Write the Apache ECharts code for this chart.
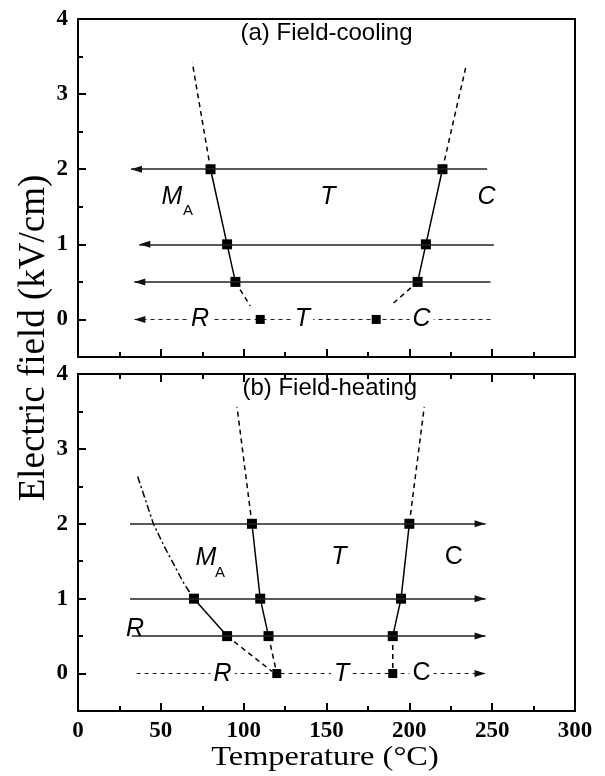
<!DOCTYPE html>
<html><head><meta charset="utf-8">
<script src="https://cdn.jsdelivr.net/npm/echarts@6/dist/echarts.min.js"></script>
<style>html,body{margin:0;padding:0;background:#fff}#c{width:605px;height:776px}</style>
</head><body><div id="c"></div>
<script>
// ---------------- data ----------------
const yMajorTicks = [0, 1, 2, 3, 4];
const yMinorTicks = [0.5, 1.5, 2.5, 3.5];

// (a) Field-cooling
const fcArrowField = [2, 1, 0.5, 0];
const fcArrowFrom = [247, 251, 249, 249];
const fcArrowTo = [32, 37, 34, 34];
const fcLowSolid = [[80, 2], [90, 1], [95, 0.5]];
const fcLowDashUp = [[80, 2], [69, 3.42]];
const fcLowDashDown = [[95, 0.5], [104, 0.18]];
const fcHighSolid = [[220, 2], [210, 1], [205, 0.5]];
const fcHighDashUp = [[220, 2], [234.5, 3.4]];
const fcHighDashDown = [[205, 0.5], [189, 0.19]];
const fcZeroPoints = [[110, 0], [180, 0]];
const fcLabels = ['(a) Field-cooling', 'M', 'A', 'T', 'C', 'R', 'T', 'C'];
const fcLabelAt = [[150, 3.81], [56.7, 1.63], [66.4, 1.44], [150.9, 1.63], [246.6, 1.63], [73.6, 0], [135.5, 0], [207.4, 0]];

// (b) Field-heating
const fhArrowField = [2, 1, 0.5, 0];
const fhArrowFrom = [31.4, 31.4, 32.4, 35.4];
const fhArrowTo = [246, 246, 246, 246];
const fhMidSolid = [[105, 2], [110, 1], [115, 0.5]];
const fhMidDashUp = [[105, 2], [96, 3.56]];
const fhMidDashDown = [[115, 0.5], [120, 0]];
const fhHighSolid = [[200, 2], [195, 1], [190, 0.5]];
const fhHighDashUp = [[200, 2], [209, 3.56]];
const fhHighDashDown = [[190, 0.5], [190, 0]];
const fhLowSolid = [[70, 1], [90, 0.5]];
const fhLowDashDotUp = [[36, 2.63], [41, 2.3], [45.5, 2], [52, 1.7], [58, 1.45], [64, 1.2], [70, 1]];
const fhLowDashDown = [[90, 0.5], [117, 0.03]];
const fhZeroPoints = [[120, 0], [190, 0]];
const fhLabels = ['(b) Field-heating', 'M', 'A', 'T', 'C', 'R', 'R', 'T', 'C'];
const fhLabelAt = [[152, 3.81], [77.2, 1.54], [85.7, 1.35], [157.5, 1.55], [226.9, 1.55], [34.4, 0.6], [87.3, 0], [159.1, 0], [207.4, 0]];

// ---------------- styling / build ----------------
const SERIF = '"Liberation Serif","Times New Roman",serif';
const SANS = '"Liberation Sans",Arial,sans-serif';
const AX = { color: '#000', width: 2 };

function xAxisFor(grid, position, labels) {
  return {
    type: 'value', gridIndex: grid, position, min: 0, max: 300, interval: 50,
    axisLine: { show: true, onZero: false, lineStyle: AX },
    axisTick: { show: true, inside: true, length: 8, lineStyle: AX },
    minorTick: { show: true, splitNumber: 2, length: 5, lineStyle: AX },
    axisLabel: { show: labels, color: '#000', fontFamily: SERIF, fontWeight: 'bold', fontSize: 23, margin: 9 },
    splitLine: { show: false }, minorSplitLine: { show: false }
  };
}
function yAxisFor(grid, major) {
  return {
    type: 'value', gridIndex: grid, position: 'left', min: -0.5, max: 4,
    axisLine: { show: major, onZero: false, lineStyle: AX },
    axisTick: { show: true, inside: true, length: major ? 8 : 5, lineStyle: AX, customValues: major ? yMajorTicks : yMinorTicks },
    axisLabel: major ? { show: true, customValues: yMajorTicks, color: '#000', fontFamily: SERIF, fontWeight: 'bold', fontSize: 23, margin: 10 } : { show: false },
    splitLine: { show: false }
  };
}
const axisIdx = [{ x: 0, y: 0 }, { x: 1, y: 2 }];

function line(panel, data, type, symbols) {
  return {
    type: 'line', xAxisIndex: axisIdx[panel].x, yAxisIndex: axisIdx[panel].y, data,
    symbol: symbols ? 'rect' : 'none', symbolSize: 10, showSymbol: !!symbols,
    lineStyle: { color: '#000', width: 1.5, type }, itemStyle: { color: '#000', opacity: 1 },
    silent: true, animation: false, z: 4
  };
}
function points(panel, data) {
  return {
    type: 'scatter', xAxisIndex: axisIdx[panel].x, yAxisIndex: axisIdx[panel].y, data,
    symbol: 'rect', symbolSize: 9, itemStyle: { color: '#000', opacity: 1 }, silent: true, animation: false, z: 6
  };
}
// horizontal field lines (drawn with markLine between data coords) + arrowheads (scatter triangles at the tips)
function fieldLines(panel, field, from, to, anchor) {
  return {
    type: 'line', xAxisIndex: axisIdx[panel].x, yAxisIndex: axisIdx[panel].y, data: anchor,
    symbol: 'none', lineStyle: { opacity: 0 }, silent: true, animation: false, z: 2,
    markLine: {
      silent: true, animation: false, symbol: ['none', 'none'],
      label: { show: false }, emphasis: { disabled: true },
      lineStyle: { color: '#222', width: 1.5, type: 'solid' },
      data: field.map((e, i) => [
        { coord: [from[i], e], lineStyle: e === 0 ? { type: [4, 4], width: 1.1, color: '#222' } : { type: 'solid', width: 1.5, color: '#222' } },
        { coord: [to[i], e] }
      ])
    }
  };
}
function arrowHeads(panel, field, to, leftward) {
  return {
    type: 'scatter', xAxisIndex: axisIdx[panel].x, yAxisIndex: axisIdx[panel].y,
    data: field.map((e, i) => [to[i], e]),
    symbol: 'triangle', symbolSize: [7, 11], symbolRotate: leftward ? 90 : -90,
    symbolOffset: [leftward ? 5.5 : -5.5, 0],
    itemStyle: { color: '#111', opacity: 1 }, silent: true, animation: false, z: 5
  };
}
function labels(panel, texts, at, uprightC) {
  return {
    type: 'scatter', xAxisIndex: axisIdx[panel].x, yAxisIndex: axisIdx[panel].y, silent: true, animation: false, z: 10,
    symbolSize: 1, itemStyle: { color: 'transparent', opacity: 1 },
    data: texts.map((t, i) => {
      const isTitle = t.length > 2;
      const isSub = t === 'A';
      const italic = !isTitle && !isSub && !(uprightC && t === 'C');
      const onZero = at[i][1] === 0;
      return {
        value: [at[i][0], at[i][1], t],
        label: {
          show: true, position: 'inside', formatter: t, color: '#000', opacity: 1,
          fontFamily: SANS, fontStyle: italic ? 'italic' : 'normal',
          fontSize: isTitle ? 24 : (isSub ? 15 : 25),
          backgroundColor: onZero ? '#fff' : 'transparent', padding: onZero ? [0, 3] : 0
        }
      };
    })
  };
}

const chart = echarts.init(document.getElementById('c'), null, { renderer: 'canvas' });
chart.setOption({
  backgroundColor: '#fff',
  animation: false,
  grid: [
    { left: 78, width: 497, top: 19, height: 338, show: true, borderColor: '#000', borderWidth: 2, backgroundColor: 'transparent' },
    { left: 78, width: 497, top: 374, height: 337, show: true, borderColor: '#000', borderWidth: 2, backgroundColor: 'transparent' }
  ],
  xAxis: [xAxisFor(0, 'bottom', false), xAxisFor(1, 'bottom', true), xAxisFor(1, 'top', false)],
  yAxis: [yAxisFor(0, true), yAxisFor(0, false), yAxisFor(1, true), yAxisFor(1, false)],
  graphic: [
    { type: 'text', x: 34, y: 338, rotation: Math.PI / 2, silent: true,
      style: { text: 'Electric field (kV/cm)', fontFamily: SERIF, fontSize: 37, fill: '#000', align: 'center', verticalAlign: 'middle' } },
    { type: 'text', x: 325, y: 758, scaleX: 1.2, silent: true,
      style: { text: 'Temperature (\u00B0C)', fontFamily: SERIF, fontSize: 27, fill: '#000', align: 'center', verticalAlign: 'middle' } }
  ],
  series: [
    fieldLines(0, fcArrowField, fcArrowFrom, fcArrowTo, fcZeroPoints),
    arrowHeads(0, fcArrowField, fcArrowTo, true),
    line(0, fcLowSolid, 'solid', true),
    line(0, fcLowDashUp, [5, 4], false),
    line(0, fcLowDashDown, [5, 4], false),
    line(0, fcHighSolid, 'solid', true),
    line(0, fcHighDashUp, [5, 4], false),
    line(0, fcHighDashDown, [5, 4], false),
    points(0, fcZeroPoints),
    labels(0, fcLabels, fcLabelAt, false),

    fieldLines(1, fhArrowField, fhArrowFrom, fhArrowTo, fhZeroPoints),
    arrowHeads(1, fhArrowField, fhArrowTo, false),
    line(1, fhMidSolid, 'solid', true),
    line(1, fhMidDashUp, [5, 4], false),
    line(1, fhMidDashDown, [5, 4], false),
    line(1, fhHighSolid, 'solid', true),
    line(1, fhHighDashUp, [5, 4], false),
    line(1, fhHighDashDown, [5, 4], false),
    line(1, fhLowSolid, 'solid', true),
    line(1, fhLowDashDotUp, [7, 3, 2, 3], false),
    line(1, fhLowDashDown, [5, 4], false),
    points(1, fhZeroPoints),
    labels(1, fhLabels, fhLabelAt, true)
  ]
});
</script>
</body></html>
